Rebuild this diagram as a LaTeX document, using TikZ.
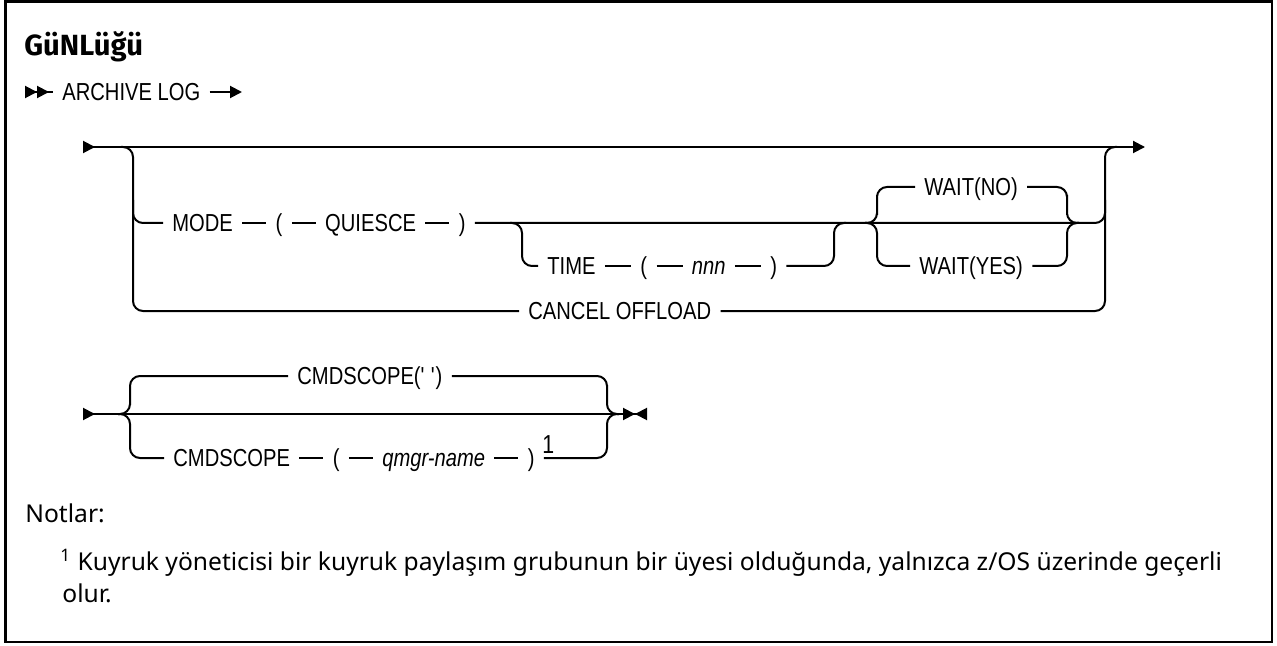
\documentclass[tikz,border=0pt]{standalone}
\usepackage{fontspec}
\setmainfont{Noto Sans}
\newfontfamily\railfont[FakeStretch=0.82]{Liberation Sans}
\newfontfamily\headfont{Fira Sans}
\usetikzlibrary{arrows.meta,positioning}

\begin{document}
\begin{tikzpicture}[
  x=0.5pt,y=-0.5pt,
  rail/.style={line width=1pt,rounded corners=5pt},
  kw/.style={font=\railfont\fontsize{12.3}{14}\selectfont,inner xsep=4.5pt,inner ysep=0pt,
    text height=8.8pt,text depth=0pt,anchor=west},
  var/.style={kw,font=\railfont\fontsize{12.3}{14}\selectfont\itshape},
  note/.style={font=\fontsize{12.3}{16}\selectfont,inner sep=0pt,anchor=base west}
]
\useasboundingbox (0,0) rectangle (1277,646);
\draw[line width=1.3pt] (5.5,1.5) rectangle (1272,642);

% heading
\node[anchor=base west,inner sep=0pt,font=\headfont\bfseries\fontsize{14.6}{16}\selectfont] (title) at (24,56) {GüNLüğü};

% ARCHIVE LOG
\coordinate (s0) at (25,92);
\node[kw] (archlog) at (53,92) {ARCHIVE LOG};
\coordinate (e0) at (242,92);
\draw[rail,{Triangle[reversed,length=6pt,width=6pt]Triangle[reversed,length=6pt,width=6pt]}-] (s0) -- (archlog.west);
\draw[rail,-{Triangle[length=6pt,width=6pt]}] (archlog.east) -- (e0);

% main line, empty choice
\coordinate (s1) at (83,147);
\coordinate (e1) at (1145,147);
\draw[rail,{Triangle[reversed,length=6pt,width=6pt]}-{Triangle[length=6pt,width=6pt]}] (s1) -- (e1);

% MODE row
\node[kw] (mode) at (163,223) {MODE};
\node[kw,right=12pt of mode] (lp1) {(};
\node[kw,right=12pt of lp1] (quiesce) {QUIESCE};
\node[kw,right=12pt of quiesce] (rp1) {)};
\draw[rail] (mode.east) -- (lp1.west) (lp1.east) -- (quiesce.west) (quiesce.east) -- (rp1.west);

% TIME branch
\node[kw] (time) at (538,266) {TIME};
\node[kw,right=13pt of time] (lp2) {(};
\node[var,right=13pt of lp2] (nnn) {nnn};
\node[kw,right=13pt of nnn] (rp2) {)};
\draw[rail] (time.east) -- (lp2.west) (lp2.east) -- (nnn.west) (nnn.east) -- (rp2.west);

% WAIT choice
\node[kw] (waitno) at (915,187) {WAIT(NO)};
\node[kw] (waityes) at (910,266) {WAIT(YES)};

% CANCEL OFFLOAD
\node[kw] (cancel) at (519,311) {CANCEL OFFLOAD};

% junctions of the first group
\coordinate (lj) at (121,147);
\coordinate (lv) at (133,200);
\coordinate (rv) at (1105,200);
\coordinate (rj) at (1117,147);
\coordinate (tj) at (510,223);
\coordinate (tv) at (522,245);
\coordinate (tv2) at (834,245);
\coordinate (tj2) at (846,223);
\coordinate (wj) at (865,223);
\coordinate (wu) at (877,205);
\coordinate (wd) at (877,245);
\coordinate (wu2) at (1067,205);
\coordinate (wd2) at (1067,245);
\coordinate (wj2) at (1079,223);

\draw[rail] (lj) -| (lv) |- (cancel.west);
\draw[rail] (lv) |- (mode.west);
\draw[rail] (rp1.east) -| (rv);
\draw[rail] (cancel.east) -| (rv) |- (rj);
\draw[rail] (tj) -| (tv) |- (time.west);
\draw[rail] (rp2.east) -| (tv2) |- (tj2);
\draw[rail] (wj) -| (wu) |- (waitno.west);
\draw[rail] (wj) -| (wd) |- (waityes.west);
\draw[rail] (waitno.east) -| (wu2) |- (wj2);
\draw[rail] (waityes.east) -| (wd2) |- (wj2);

% CMDSCOPE group
\coordinate (s2) at (83,414);
\coordinate (e2) at (647,414);
\draw[rail,{Triangle[reversed,length=6pt,width=6pt]}-{Triangle[length=6pt,width=6pt]Triangle[reversed,length=6pt,width=6pt]}] (s2) -- (e2);
\node[kw] (cmdblank) at (288,376) {CMDSCOPE(\textquotesingle\ \textquotesingle)};
\node[kw] (cmd) at (164,458) {CMDSCOPE};
\node[kw,right=12pt of cmd] (lp3) {(};
\node[var,right=12pt of lp3] (qmgr) {qmgr-name};
\node[kw,right=12pt of qmgr] (rp3) {)};
\node[kw,anchor=south west,inner xsep=0pt,font=\railfont\fontsize{13}{14}\selectfont] (fn1) at ([xshift=-1pt,yshift=2pt]rp3.east) {1};
\draw[rail] (cmd.east) -- (lp3.west) (lp3.east) -- (qmgr.west) (qmgr.east) -- (rp3.west);

\coordinate (cj) at (118,414);
\coordinate (cu) at (130,395);
\coordinate (cd) at (130,435);
\coordinate (cu2) at (607,395);
\coordinate (cd2) at (607,435);
\coordinate (cj2) at (619,414);
\draw[rail] (cj) -| (cu) |- (cmdblank.west);
\draw[rail] (cj) -| (cd) |- (cmd.west);
\draw[rail] (cmdblank.east) -| (cu2) |- (cj2);
\draw[rail] (rp3.east) -| (cd2) |- (cj2);

% notes
\node[note] (notlar) at (25,522) {Notlar:};
\node[note] (fnote) at (60,570) {\textsuperscript{1} Kuyruk yöneticisi bir kuyruk paylaşım grubunun bir üyesi olduğunda, yalnızca z/OS üzerinde geçerli};
\node[note] (fnote2) at (62,602) {olur.};
\end{tikzpicture}
\end{document}
